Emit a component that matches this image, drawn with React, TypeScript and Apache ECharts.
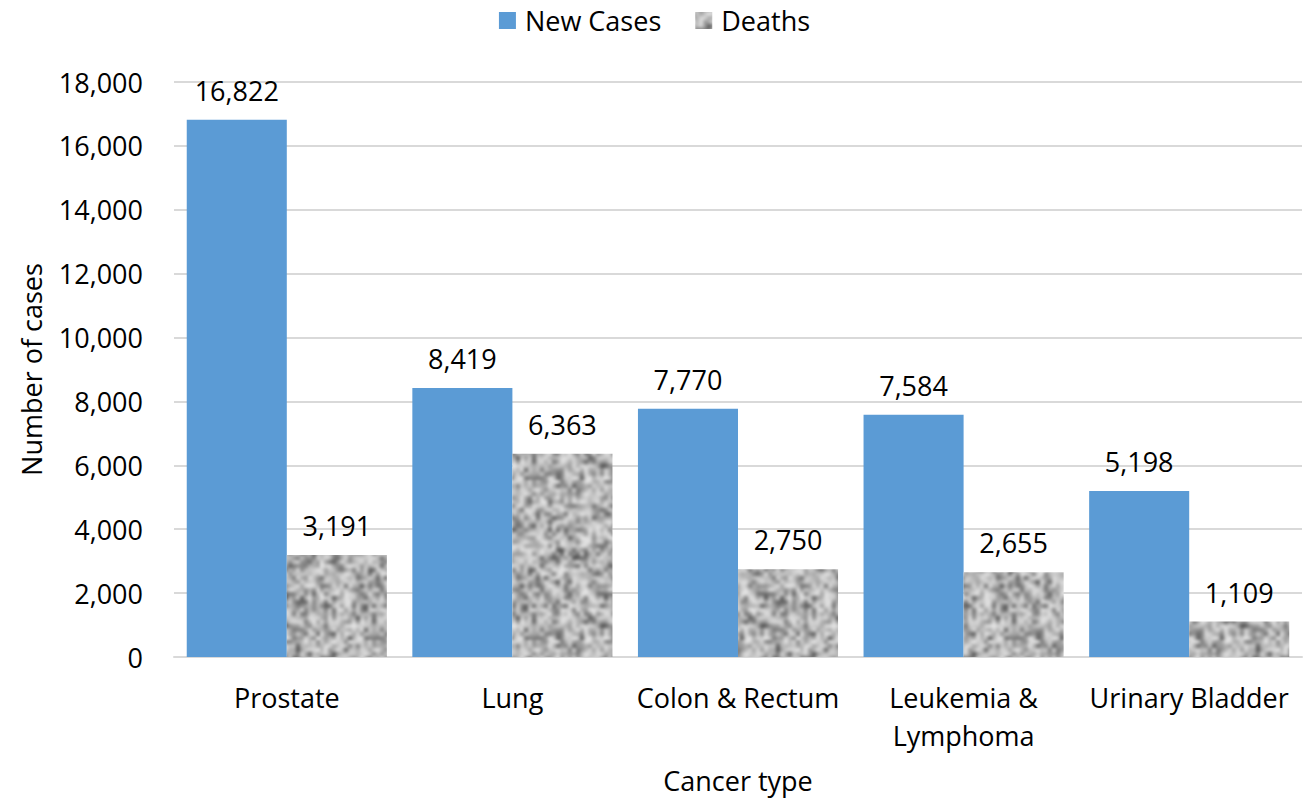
import React, { useEffect, useRef } from "react";
import * as echarts from "echarts";

const categories = ["Prostate", "Lung", "Colon & Rectum", "Leukemia &\nLymphoma", "Urinary Bladder"];
const newCases = [16822, 8419, 7770, 7584, 5198];
const deaths = [3191, 6363, 2750, 2655, 1109];
const yTicks = { min: 0, max: 18000, interval: 2000 };

const FONT = "Open Sans";
const FS = 27;
const TXT = "#000";

function makeNoise(): string {
  const small = document.createElement("canvas");
  const n = 40;
  small.width = n;
  small.height = n;
  const sctx = small.getContext("2d")!;
  const img = sctx.createImageData(n, n);
  let seed = 12345;
  const rnd = () => {
    seed = (seed * 1103515245 + 12345) & 0x7fffffff;
    return seed / 0x7fffffff;
  };
  for (let i = 0; i < n * n; i++) {
    const r = rnd();
    const g = Math.round(60 + 175 * Math.pow(r, 0.5));
    img.data[i * 4] = g;
    img.data[i * 4 + 1] = g;
    img.data[i * 4 + 2] = g;
    img.data[i * 4 + 3] = 255;
  }
  sctx.putImageData(img, 0, 0);
  const s = 4;
  const size = n * s;
  const mid = document.createElement("canvas");
  mid.width = size * 3;
  mid.height = size * 3;
  const mctx = mid.getContext("2d")!;
  mctx.imageSmoothingEnabled = true;
  for (let i = 0; i < 3; i++) {
    for (let j = 0; j < 3; j++) {
      mctx.drawImage(small, i * size, j * size, size, size);
    }
  }
  const big = document.createElement("canvas");
  big.width = size;
  big.height = size;
  const bctx = big.getContext("2d")!;
  (bctx as any).filter = "blur(1.6px)";
  bctx.drawImage(mid, -size, -size);
  return big.toDataURL();
}

export default function App() {
  const ref = useRef<HTMLDivElement>(null);
  useEffect(() => {
    if (!ref.current) return;
    const chart = echarts.init(ref.current, undefined, { renderer: "svg" });
    const noise = makeNoise();
    const pattern: any = { image: noise, repeat: "repeat", imageWidth: 160, imageHeight: 160 };
    const fmt = (v: number) => v.toLocaleString("en-US");
    const label = {
      show: true,
      position: "top",
      distance: 16,
      fontFamily: FONT,
      fontSize: FS,
      color: TXT,
      formatter: (p: any) => fmt(p.value),
    };
    chart.setOption({
      animation: false,
      backgroundColor: "#ffffff",
      textStyle: { fontFamily: FONT, color: TXT },
      legend: {
        top: 2,
        left: "center",
        itemWidth: 17,
        itemHeight: 17,
        itemGap: 34,
        icon: "rect",
        textStyle: { fontFamily: FONT, fontSize: FS, color: TXT, padding: [0, 0, 0, 4] },
        data: ["New Cases", "Deaths"],
      },
      grid: { left: 174, right: 7, top: 82, bottom: 144, containLabel: false },
      xAxis: {
        type: "category",
        data: categories,
        name: "Cancer type",
        nameLocation: "middle",
        nameGap: 110,
        nameTextStyle: { fontFamily: FONT, fontSize: FS, color: TXT },
        axisLine: { show: true, lineStyle: { color: "#d9d9d9", width: 2 } },
        axisTick: { show: false },
        axisLabel: {
          interval: 0,
          fontFamily: FONT,
          fontSize: FS,
          color: TXT,
          lineHeight: 38,
          margin: 21,
        },
      },
      yAxis: {
        type: "value",
        min: yTicks.min,
        max: yTicks.max,
        interval: yTicks.interval,
        name: "Number of cases",
        nameLocation: "middle",
        nameGap: 129,
        nameTextStyle: { fontFamily: FONT, fontSize: FS, color: TXT },
        axisLine: { show: false },
        axisTick: { show: false },
        splitLine: { lineStyle: { color: "#d9d9d9", width: 2 } },
        axisLabel: {
          fontFamily: FONT,
          fontSize: FS,
          color: TXT,
          margin: 31,
          formatter: (v: number) => fmt(v),
        },
      },
      series: [
        {
          name: "New Cases",
          type: "bar",
          data: newCases,
          barGap: "0%",
          barCategoryGap: "11.3%",
          itemStyle: { color: "#5b9bd5" },
          label,
        },
        {
          name: "Deaths",
          type: "bar",
          data: deaths,
          barGap: "0%",
          barCategoryGap: "11.3%",
          itemStyle: { color: pattern },
          label,
        },
      ],
    });
    return () => chart.dispose();
  }, []);
  return (
    <div
      ref={ref}
      style={{ position: "fixed", left: 0, top: 0, width: 1309, height: 801 }}
    />
  );
}
